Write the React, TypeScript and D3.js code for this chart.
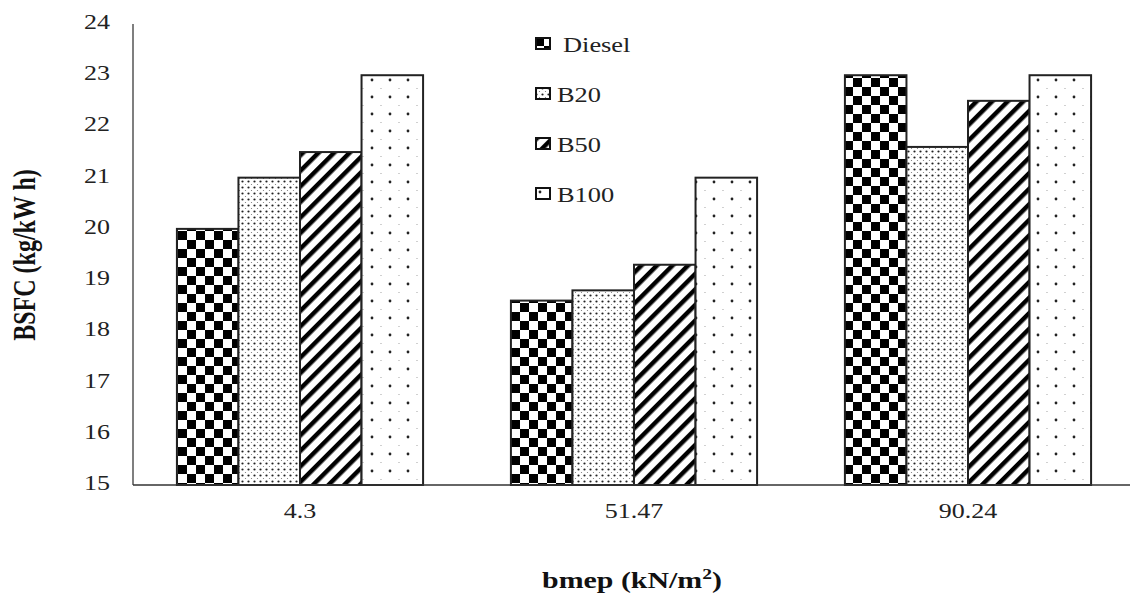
import * as d3 from "d3";
import { useEffect, useRef } from "react";

// data
const categories = ["4.3", "51.47", "90.24"];
const seriesNames = ["Diesel", "B20", "B50", "B100"];
const diesel = [20, 18.6, 23];
const b20 = [21, 18.8, 21.6];
const b50 = [21.5, 19.3, 22.5];
const b100 = [23, 21, 23];
const yTicks = [15, 16, 17, 18, 19, 20, 21, 22, 23, 24];

const App = () => {
  const ref = useRef<SVGSVGElement>(null);

  const width = 1130;
  const height = 597;
  const margin = { top: 24, bottom: 112, left: 133, right: -5 };
  const sx = 1.3; // исходная картинка растянута по горизонтали

  useEffect(() => {
    const svg = d3.select(ref.current);
    svg.selectAll("*").remove();

    const font = "Liberation Serif, DejaVu Serif, serif";
    const defs = svg.append("defs");

    // шахматка
    const p0 = defs.append("pattern").attr("id", "p-diesel").attr("patternUnits", "userSpaceOnUse")
      .attr("width", 18).attr("height", 18);
    p0.append("rect").attr("width", 18).attr("height", 18).attr("fill", "#fff");
    p0.append("rect").attr("width", 9).attr("height", 9).attr("fill", "#000");
    p0.append("rect").attr("x", 9).attr("y", 9).attr("width", 9).attr("height", 9).attr("fill", "#000");

    // мелкие точки
    const p1 = defs.append("pattern").attr("id", "p-b20").attr("patternUnits", "userSpaceOnUse")
      .attr("width", 6).attr("height", 6);
    p1.append("rect").attr("width", 6).attr("height", 6).attr("fill", "#fff");
    p1.append("circle").attr("cx", 1.5).attr("cy", 1.5).attr("r", 1.1).attr("fill", "#222");
    p1.append("circle").attr("cx", 4.5).attr("cy", 4.5).attr("r", 0.6).attr("fill", "#777");

    // диагональ
    const p2 = defs.append("pattern").attr("id", "p-b50").attr("patternUnits", "userSpaceOnUse")
      .attr("width", 11).attr("height", 11).attr("patternTransform", "rotate(45)");
    p2.append("rect").attr("width", 11).attr("height", 11).attr("fill", "#fff");
    p2.append("rect").attr("x", 0).attr("width", 4.5).attr("height", 11).attr("fill", "#000");

    // редкие точки
    const p3 = defs.append("pattern").attr("id", "p-b100").attr("patternUnits", "userSpaceOnUse")
      .attr("width", 18).attr("height", 17);
    p3.append("rect").attr("width", 18).attr("height", 17).attr("fill", "#fff");
    p3.append("circle").attr("cx", 5).attr("cy", 5).attr("r", 1.4).attr("fill", "#222");
    p3.append("circle").attr("cx", 14).attr("cy", 13.5).attr("r", 0.6).attr("fill", "#999");

    const fills = ["url(#p-diesel)", "url(#p-b20)", "url(#p-b50)", "url(#p-b100)"];
    const values = [diesel, b20, b50, b100];

    const innerW = width - margin.left - margin.right;
    const innerH = height - margin.top - margin.bottom;

    const x0 = d3.scaleBand().domain(categories).range([0, innerW]).paddingInner(0.263).paddingOuter(0.1315);
    const x1 = d3.scaleBand().domain(seriesNames).range([0, x0.bandwidth()]);
    const y = d3.scaleLinear().domain([15, 24]).range([innerH, 0]);

    const g = svg.append("g").attr("transform", `translate(${margin.left},${margin.top})`);

    // bars
    seriesNames.forEach((s, si) => {
      g.selectAll(`.bar-${si}`)
        .data(categories)
        .enter()
        .append("rect")
        .attr("x", c => (x0(c) ?? 0) + (x1(s) ?? 0))
        .attr("y", (c, i) => y(values[si][i]))
        .attr("width", x1.bandwidth())
        .attr("height", (c, i) => innerH - y(values[si][i]))
        .attr("fill", fills[si])
        .attr("stroke", "#222")
        .attr("stroke-width", 2);
    });

    // axes
    g.append("line").attr("x1", 0).attr("x2", 0).attr("y1", 0).attr("y2", innerH)
      .attr("stroke", "#555").attr("stroke-width", 1.5);
    g.append("line").attr("x1", 0).attr("x2", innerW).attr("y1", innerH).attr("y2", innerH)
      .attr("stroke", "#333").attr("stroke-width", 1.5);

    g.selectAll(".ytick")
      .data(yTicks)
      .enter()
      .append("text")
      .attr("transform", d => `translate(-23,${y(d) - 2}) scale(${sx},1)`)
      .attr("dy", "0.35em")
      .attr("text-anchor", "end")
      .attr("font-family", font)
      .attr("font-size", 20)
      .attr("fill", "#222")
      .text(d => d);

    g.selectAll(".xtick")
      .data(categories)
      .enter()
      .append("text")
      .attr("transform", d => `translate(${(x0(d) ?? 0) + x0.bandwidth() / 2},${innerH + 33}) scale(${sx},1)`)
      .attr("text-anchor", "middle")
      .attr("font-family", font)
      .attr("font-size", 20)
      .attr("fill", "#222")
      .text(d => d);

    // axis titles
    const xt = svg.append("text")
      .attr("transform", `translate(632,588) scale(${sx},1)`)
      .attr("text-anchor", "middle")
      .attr("font-family", font)
      .attr("font-size", 23)
      .attr("font-weight", "bold")
      .attr("fill", "#111");
    xt.append("tspan").text("bmep (kN/m");
    xt.append("tspan").attr("font-size", 15).attr("dy", -9).text("2");
    xt.append("tspan").attr("dy", 9).text(")");

    svg.append("text")
      .attr("transform", `translate(35,255) scale(${sx},1) rotate(-90)`)
      .attr("text-anchor", "middle")
      .attr("font-family", font)
      .attr("font-size", 24)
      .attr("font-weight", "bold")
      .attr("fill", "#111")
      .text("BSFC (kg/kW h)");

    // legend
    const leg = svg.append("g").attr("transform", "translate(535,37)");
    seriesNames.forEach((s, i) => {
      const row = leg.append("g").attr("transform", `translate(0,${i * 50})`);
      row.append("rect").attr("x", 1).attr("y", 1).attr("width", 14).attr("height", 11)
        .attr("fill", fills[i]).attr("stroke", "#111").attr("stroke-width", 2);
      row.append("text")
        .attr("transform", `translate(${i === 0 ? 28 : 22},7) scale(1.2,1)`)
        .attr("dy", "0.35em")
        .attr("font-family", font)
        .attr("font-size", 22)
        .attr("fill", "#222")
        .text(s);
    });
  }, []);

  return (
    <svg ref={ref} width={width} height={height} style={{ position: "absolute", left: 0, top: 0, background: "#fff" }}></svg>
  );
};

export default App;
